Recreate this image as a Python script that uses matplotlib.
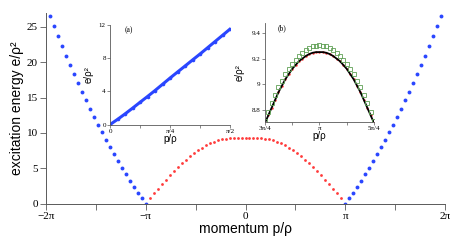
import numpy as np
import matplotlib.pyplot as plt
from matplotlib.ticker import FixedLocator

plt.rcParams["font.family"] = "serif"
plt.rcParams["font.serif"] = ["Liberation Serif", "DejaVu Serif"]

PI = np.pi

# main panel: momentum in units of pi, step 0.04
p_red = np.round(np.arange(-25, 26) * 0.04, 2)
e_red_half = [0, 0.8, 1.45, 2.1, 2.75, 3.37, 3.98, 4.58, 5.15, 5.7, 6.22, 6.7, 7.15,
              7.55, 7.92, 8.25, 8.53, 8.77, 8.96, 9.1, 9.2, 9.26, 9.3, 9.32, 9.33, 9.33]
e_red = e_red_half + e_red_half[-2::-1]

p_blue = np.round(1 + np.arange(0, 25) * 0.04, 2)
e_blue = [0, 0.78, 1.53, 2.37, 3.22, 4.12, 5.01, 5.96, 6.95, 7.94, 8.97, 10.06, 11.13,
          12.26, 13.39, 14.62, 15.85, 17.06, 18.29, 19.6, 20.93, 22.29, 23.7, 25.1, 26.58]

# inset (a)
pa = np.arange(0, 17) / 32
ea = [0, 0.62, 1.28, 1.97, 2.68, 3.38, 4.1, 4.85, 5.6, 6.33, 7.05, 7.78, 8.5, 9.25,
      10.0, 10.75, 11.5]

# inset (b)
pb = 0.75 + np.arange(0, 33) / 64
eb_green_half = [8.72, 8.79, 8.86, 8.92, 8.98, 9.03, 9.08, 9.12, 9.16, 9.19, 9.22,
                 9.245, 9.265, 9.28, 9.295, 9.30, 9.305]
eb_black_half = [8.70, 8.76, 8.82, 8.88, 8.94, 8.99, 9.04, 9.08, 9.12, 9.15, 9.18,
                 9.20, 9.22, 9.235, 9.245, 9.25, 9.25]
eb_green = eb_green_half + eb_green_half[-2::-1]
eb_black = eb_black_half + eb_black_half[-2::-1]

blue = "#2a46ff"
red = "#ff3a3a"
spine_c = "0.35"

fig = plt.figure(figsize=(4.63, 2.40), dpi=100)

ax = fig.add_axes([0.0994, 0.152, 0.8617, 0.795])
ax.plot(np.array(p_red) * PI, e_red, "o", color=red, ms=2.0, mew=0)
ax.plot(-p_blue * PI, e_blue, "o", color=blue, ms=2.8, mew=0)
ax.plot(p_blue * PI, e_blue, "o", color=blue, ms=2.8, mew=0)
ax.set_xlim(-2 * PI, 2 * PI)
ax.set_ylim(0, 27)
ax.set_xticks([-2 * PI, -PI, 0, PI, 2 * PI], labels=["−2π", "−π", "0", "π", "2π"])
ax.xaxis.set_minor_locator(FixedLocator([-1.5 * PI, -0.5 * PI, 0.5 * PI, 1.5 * PI]))
ax.set_yticks([0, 5, 10, 15, 20, 25])
ax.tick_params(labelsize=8, length=4, width=0.6, color=spine_c, pad=2)
ax.tick_params(which="minor", length=4, width=0.6, color=spine_c)
for s in ["top", "right"]:
    ax.spines[s].set_visible(False)
for s in ["left", "bottom"]:
    ax.spines[s].set_color(spine_c)
    ax.spines[s].set_linewidth(0.7)
ax.set_xlabel("momentum p/ρ", family="Liberation Sans", fontsize=10, labelpad=1)
ax.set_ylabel("excitation energy e/ρ²", family="Liberation Sans", fontsize=10, labelpad=2)

# inset (a)
axa = fig.add_axes([0.2376, 0.481, 0.2592, 0.415])
axa.plot(pa * PI, ea, "-", color=blue, lw=2.2)
axa.plot(pa * PI, ea, "o", color=blue, ms=2.6, mew=0)
axa.set_xlim(0, PI / 2)
axa.set_ylim(0, 12)
axa.set_xticks([0, PI / 4, PI / 2], labels=["0", "π/4", "π/2"])
axa.xaxis.set_minor_locator(FixedLocator([PI / 8, 3 * PI / 8]))
axa.set_yticks([0, 4, 8, 12])
axa.tick_params(labelsize=5, length=2, width=0.5, color=spine_c, pad=1)
axa.tick_params(which="minor", length=2, width=0.5, color=spine_c)
axa.text(0.12, 0.93, "(a)", transform=axa.transAxes, fontsize=5.5)
axa.set_xlabel("p/ρ", family="Liberation Sans", fontsize=7, labelpad=0)
axa.set_ylabel("e/ρ²", family="Liberation Sans", fontsize=7, labelpad=4)

# inset (b)
axb = fig.add_axes([0.572, 0.492, 0.236, 0.412])
axb.plot(pb * PI, eb_black, "o", color=red, ms=1.8, mew=0)
axb.plot(pb * PI, eb_black, "-", color="black", lw=1.3)
axb.plot(pb * PI, eb_green, "s", mfc="none", mec="#5fa055", ms=2.2, mew=0.6)
axb.set_xlim(0.75 * PI, 1.25 * PI)
axb.set_ylim(8.71, 9.475)
axb.set_xticks([0.75 * PI, PI, 1.25 * PI], labels=["3π/4", "π", "5π/4"])
axb.xaxis.set_minor_locator(FixedLocator([0.875 * PI, 1.125 * PI]))
axb.set_yticks([8.8, 9.0, 9.2, 9.4], labels=["8.8", "9", "9.2", "9.4"])
axb.tick_params(labelsize=5, length=2, width=0.5, color=spine_c, pad=1)
axb.tick_params(which="minor", length=2, width=0.5, color=spine_c)
axb.text(0.12, 0.93, "(b)", transform=axb.transAxes, fontsize=5.5)
axb.set_xlabel("p/ρ", family="Liberation Sans", fontsize=7, labelpad=0)
axb.set_ylabel("e/ρ²", family="Liberation Sans", fontsize=7, labelpad=5)

for a in (axa, axb):
    for s in ["top", "right"]:
        a.spines[s].set_visible(False)
    for s in ["left", "bottom"]:
        a.spines[s].set_color(spine_c)
        a.spines[s].set_linewidth(0.6)
    a.patch.set_alpha(0)

fig.savefig("out.png", dpi=100)
